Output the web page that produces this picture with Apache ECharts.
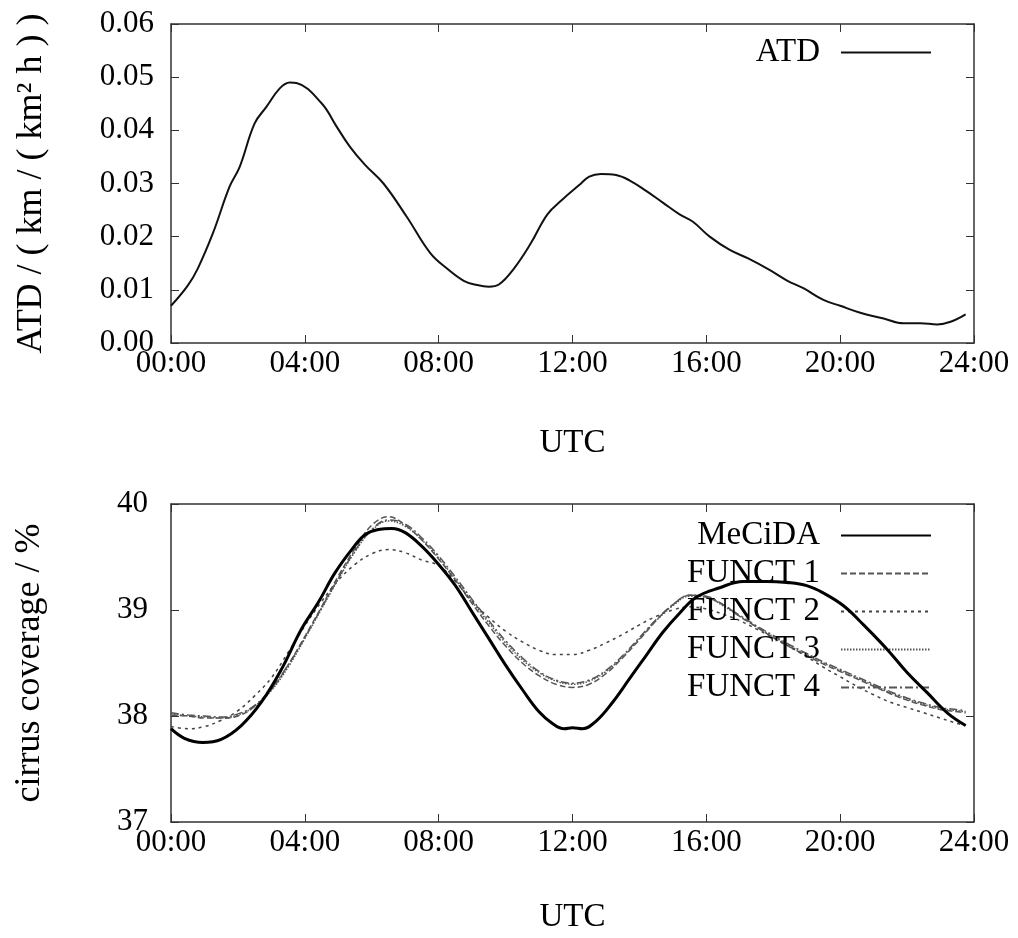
<!DOCTYPE html>
<html>
<head>
<meta charset="utf-8">
<script src="https://cdn.jsdelivr.net/npm/echarts@6/dist/echarts.min.js"></script>
<style>
  html, body { margin: 0; padding: 0; background: #fff; }
  #chart { width: 1018px; height: 938px; }
</style>
</head>
<body>
<div id="chart"></div>
<script>
// top panel: ATD
var atdHours = [0, 0.5, 0.8, 1.25, 1.75, 2.05, 2.5, 2.85, 3.25, 3.55,
    3.75, 4.5, 4.95, 5.35, 5.8, 6.35, 7.05, 7.75, 8.25, 8.75,
    9.15, 9.5, 9.8, 10.25, 10.75, 11.25, 11.7, 12.2, 12.5, 12.85,
    13.3, 13.7, 14.2, 14.7, 15.2, 15.6, 16.1, 16.7, 17.25, 17.9,
    18.4, 18.9, 19.5, 20.0, 20.6, 21.3, 21.9, 22.4, 22.9, 23.3, 23.75];
var atdValues = [0.0070, 0.0108, 0.0140, 0.0206, 0.0294, 0.0331, 0.0413, 0.0444, 0.0479, 0.0490,
    0.0489, 0.0451, 0.0407, 0.0369, 0.0335, 0.0300, 0.0237, 0.0169, 0.0140, 0.0117,
    0.0109, 0.0106, 0.0110, 0.0140, 0.0187, 0.0242, 0.0270, 0.0297, 0.0313, 0.0318,
    0.0316, 0.0306, 0.0286, 0.0264, 0.0242, 0.0228, 0.0200, 0.0175, 0.0159, 0.0137,
    0.0118, 0.0103, 0.0081, 0.0070, 0.0057, 0.0046, 0.0037, 0.0037, 0.0035, 0.0040, 0.0054];

// bottom panel: cirrus coverage
var mecidaHours = [0, 0.4, 0.95, 1.5, 2.1, 2.7, 3.3, 3.9, 4.4, 4.9,
    5.4, 5.8, 6.2, 6.6, 7.0, 7.5, 8.0, 8.5, 9.0, 9.5,
    10.0, 10.5, 11.0, 11.4, 11.75, 12.0, 12.3, 12.7, 13.2, 13.7,
    14.2, 14.7, 15.2, 15.7, 16.4, 17.1, 17.8, 18.4, 19.0, 19.5,
    20.1, 20.7, 21.4, 22.0, 22.6, 23.2, 23.75];
var mecidaValues = [37.88, 37.79, 37.75, 37.78, 37.91, 38.13, 38.44, 38.82, 39.07, 39.35,
    39.57, 39.71, 39.76, 39.77, 39.73, 39.60, 39.43, 39.23, 38.98, 38.73,
    38.48, 38.25, 38.04, 37.93, 37.88, 37.89, 37.88, 37.95, 38.13, 38.35,
    38.57, 38.79, 38.97, 39.12, 39.21, 39.27, 39.27, 39.26, 39.23, 39.16,
    39.04, 38.86, 38.63, 38.41, 38.22, 38.03, 37.91];

var functHours = [0, 0.5, 1, 1.5, 2, 2.5, 3, 3.5, 4, 4.5,
    5, 5.5, 6, 6.5, 7, 7.5, 8, 8.5, 9, 9.5,
    10, 10.5, 11, 11.5, 12, 12.5, 13, 13.5, 14, 14.5,
    15, 15.5, 16, 16.5, 17, 17.5, 18, 18.5, 19, 19.5,
    20, 20.5, 21, 21.5, 22, 22.5, 23, 23.5, 23.75];
var funct1 = [38.01, 38.00, 37.98, 37.98, 38.00, 38.09, 38.25, 38.48, 38.75, 39.03,
    39.32, 39.58, 39.80, 39.88, 39.80, 39.66, 39.48, 39.28, 39.06, 38.85,
    38.66, 38.50, 38.38, 38.30, 38.27, 38.30, 38.40, 38.55, 38.72, 38.90,
    39.05, 39.14, 39.12, 39.05, 38.94, 38.84, 38.74, 38.65, 38.57, 38.49,
    38.42, 38.35, 38.28, 38.21, 38.15, 38.10, 38.06, 38.04, 38.03];
var funct2 = [37.90, 37.88, 37.90, 37.96, 38.05, 38.19, 38.36, 38.60, 38.85, 39.08,
    39.28, 39.43, 39.53, 39.57, 39.54, 39.47, 39.42, 39.27, 39.08, 38.93,
    38.80, 38.70, 38.62, 38.58, 38.58, 38.62, 38.69, 38.77, 38.86, 38.94,
    39.00, 39.03, 39.01, 38.96, 38.90, 38.82, 38.74, 38.65, 38.56, 38.46,
    38.37, 38.28, 38.20, 38.13, 38.08, 38.03, 37.98, 37.93, 37.91];
var funct3 = [38.02, 38.00, 37.99, 37.98, 38.01, 38.09, 38.24, 38.46, 38.73, 39.01,
    39.29, 39.55, 39.75, 39.84, 39.79, 39.66, 39.49, 39.29, 39.08, 38.88,
    38.69, 38.53, 38.41, 38.33, 38.30, 38.33, 38.42, 38.56, 38.73, 38.90,
    39.04, 39.13, 39.12, 39.04, 38.94, 38.84, 38.75, 38.66, 38.58, 38.50,
    38.43, 38.36, 38.29, 38.22, 38.16, 38.11, 38.07, 38.05, 38.04];
var funct4 = [38.03, 38.01, 38.00, 37.99, 38.02, 38.10, 38.26, 38.48, 38.74, 39.02,
    39.30, 39.56, 39.76, 39.85, 39.81, 39.68, 39.51, 39.31, 39.10, 38.90,
    38.71, 38.55, 38.42, 38.34, 38.31, 38.34, 38.43, 38.57, 38.74, 38.91,
    39.05, 39.14, 39.13, 39.05, 38.95, 38.85, 38.76, 38.67, 38.59, 38.51,
    38.44, 38.37, 38.30, 38.23, 38.17, 38.12, 38.08, 38.06, 38.05];

var FONT = 'Liberation Serif, Times New Roman, serif';
var AXIS_COLOR = '#333';

var pairs = function (xs, ys) {
    var out = [];
    for (var i = 0; i < xs.length; i++) out.push([xs[i], ys[i]]);
    return out;
};

var hourLabel = function (v) {
    return (v < 10 ? '0' : '') + v + ':00';
};

var frameLine = { show: true, onZero: false, lineStyle: { color: AXIS_COLOR, width: 1.5 } };
var frameTick = { show: true, inside: true, length: 8, lineStyle: { color: AXIS_COLOR } };

// main x axis + a mirrored one on top (ticks only)
var makeXAxes = function (grid, nameGap) {
    return [{
        type: 'value', gridIndex: grid, position: 'bottom', min: 0, max: 24, interval: 4,
        name: 'UTC', nameLocation: 'middle', nameGap: nameGap,
        nameTextStyle: { fontFamily: FONT, fontSize: 33, color: '#000' },
        axisLine: frameLine, axisTick: frameTick,
        axisLabel: { formatter: hourLabel, fontFamily: FONT, fontSize: 31, color: '#000', margin: 5 },
        splitLine: { show: false }
    }, {
        type: 'value', gridIndex: grid, position: 'top', min: 0, max: 24, interval: 4,
        axisLine: frameLine, axisTick: frameTick,
        axisLabel: { show: false },
        splitLine: { show: false }
    }];
};

var makeYAxes = function (grid, min, max, interval, name, nameGap, labelMargin, fmt) {
    return [{
        type: 'value', gridIndex: grid, position: 'left', min: min, max: max, interval: interval,
        name: name, nameLocation: 'middle', nameGap: nameGap,
        nameTextStyle: { fontFamily: FONT, fontSize: 36, color: '#000' },
        axisLine: frameLine, axisTick: frameTick,
        axisLabel: { formatter: fmt, fontFamily: FONT, fontSize: 31, color: '#000', margin: labelMargin },
        splitLine: { show: false }
    }, {
        type: 'value', gridIndex: grid, position: 'right', min: min, max: max, interval: interval,
        axisLine: frameLine, axisTick: frameTick,
        axisLabel: { show: false },
        splitLine: { show: false }
    }];
};

var legendText = {
    fontFamily: FONT, fontSize: 33, color: '#000',
    width: 150, align: 'right', lineHeight: 32, padding: [0, 16, 0, 0]
};

var option = {
    animation: false,
    backgroundColor: '#fff',
    grid: [
        { left: 171, right: 44, top: 24, height: 319 },
        { left: 171, right: 44, top: 504, height: 318 }
    ],
    xAxis: makeXAxes(0, 84).concat(makeXAxes(1, 79)),
    yAxis: makeYAxes(0, 0, 0.06, 0.01, 'ATD / ( km / ( km² h ) )', 121, 17,
            function (v) { return v.toFixed(2); })
        .concat(makeYAxes(1, 37, 40, 1, 'cirrus coverage / %', 123, 23,
            function (v) { return String(v); })),
    legend: [{
        data: ['ATD'], orient: 'vertical', right: 86, top: 36, padding: 0,
        align: 'right', itemWidth: 90, itemHeight: 14, itemGap: 5,
        itemStyle: { opacity: 0 },
        textStyle: legendText
    }, {
        data: ['MeCiDA', 'FUNCT 1', 'FUNCT 2', 'FUNCT 3', 'FUNCT 4'],
        orient: 'vertical', right: 86, top: 519, padding: 0,
        align: 'right', itemWidth: 90, itemHeight: 14, itemGap: 5,
        itemStyle: { opacity: 0 },
        textStyle: legendText
    }],
    series: [{
        name: 'ATD', type: 'line', xAxisIndex: 0, yAxisIndex: 0,
        data: pairs(atdHours, atdValues), smooth: 0.4, symbol: 'none',
        lineStyle: { color: '#111', width: 2 }, itemStyle: { color: '#111' }
    }, {
        name: 'MeCiDA', type: 'line', xAxisIndex: 2, yAxisIndex: 2,
        data: pairs(mecidaHours, mecidaValues), smooth: 0.4, symbol: 'none',
        lineStyle: { color: '#000', width: 3 }, itemStyle: { color: '#000' }, z: 5
    }, {
        name: 'FUNCT 1', type: 'line', xAxisIndex: 2, yAxisIndex: 2,
        data: pairs(functHours, funct1), smooth: 0.4, symbol: 'none',
        lineStyle: { color: '#555', width: 1.5, type: [6, 3] }, itemStyle: { color: '#555' }
    }, {
        name: 'FUNCT 2', type: 'line', xAxisIndex: 2, yAxisIndex: 2,
        data: pairs(functHours, funct2), smooth: 0.4, symbol: 'none',
        lineStyle: { color: '#444', width: 1.5, type: [3, 4] }, itemStyle: { color: '#444' }
    }, {
        name: 'FUNCT 3', type: 'line', xAxisIndex: 2, yAxisIndex: 2,
        data: pairs(functHours, funct3), smooth: 0.4, symbol: 'none',
        lineStyle: { color: '#555', width: 1.5, type: [1.5, 1.5] }, itemStyle: { color: '#555' }
    }, {
        name: 'FUNCT 4', type: 'line', xAxisIndex: 2, yAxisIndex: 2,
        data: pairs(functHours, funct4), smooth: 0.4, symbol: 'none',
        lineStyle: { color: '#555', width: 1.5, type: [8, 3, 2, 3] }, itemStyle: { color: '#555' }
    }]
};

var myChart = echarts.init(document.getElementById('chart'), null, { renderer: 'canvas' });
myChart.setOption(option);
</script>
</body>
</html>
